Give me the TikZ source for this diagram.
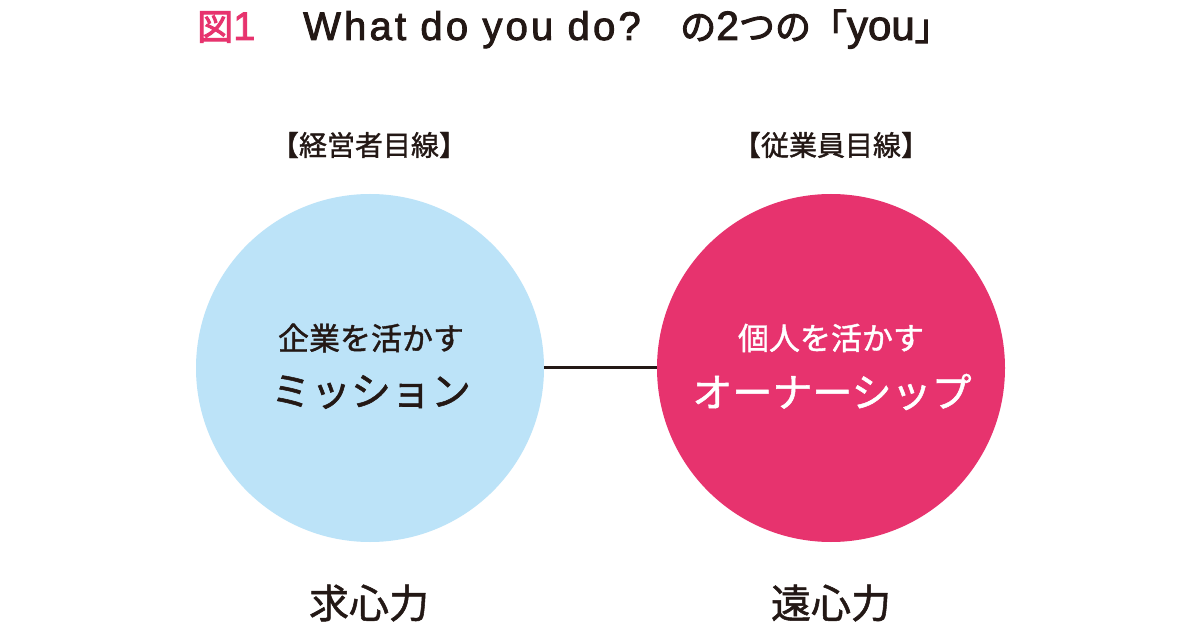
\documentclass[tikz,border=0pt]{standalone}
\usepackage{fontspec}
\setmainfont{Noto Sans CJK JP}
\newfontfamily\jp[FakeBold=1.3]{Noto Sans CJK JP}
\newfontfamily\jpt[FakeBold=2.6]{Noto Sans CJK JP}
\newfontfamily\lat[FakeBold=2.2]{Liberation Sans}
\newfontfamily\latw[LetterSpace=8,FakeBold=2.2]{Liberation Sans}
\definecolor{ink}{RGB}{35,24,21}
\definecolor{lblue}{RGB}{188,227,248}
\definecolor{rose}{RGB}{231,51,110}
\newcommand{\fs}[1]{\fontsize{#1}{#1}\selectfont}
\begin{document}
\begin{tikzpicture}[x=1pt,y=1pt,
  circ/.style={circle, minimum size=348pt, inner sep=0pt},
  txt/.style={inner sep=0pt, text=ink},
  lbl/.style={txt, font=\jp\fs{28}},
  big/.style={txt, font=\jp\fs{40}},
  mid/.style={txt, font=\jp\fs{31}}]
\useasboundingbox (0,0) rectangle (1200,630);
\fill[white] (0,0) rectangle (1200,630);
% title
\node[txt, anchor=base west, text=rose, font=\jpt\fs{36}] (t1) at (197,590) {図{\lat\fs{40}1}};
\node[txt, anchor=base west, font=\latw\fs{40}] (t2) at (303,590) {What do you do?};
\node[txt, anchor=base west, font=\jpt\fs{36}] (t3) at (680,590) {の{\lat\fs{41}2}つの「{\lat\fs{42}you}」};
% labels
\node[lbl] (lab1) at (369,485) {【経営者目線】};
\node[lbl] (lab2) at (831,485) {【従業員目線】};
% circles
\node[circ, fill=lblue] (c1) at (370,262) {};
\node[circ, fill=rose] (c2) at (831,262) {};
\draw[ink, line width=3pt] (c1.east) -- (c2.west);
\node[mid] (c1a) at (371,292) {企業を活かす};
\node[big] (c1b) at (371,238) {ミッション};
\node[mid, text=white] (c2a) at (831,292) {個人を活かす};
\node[big, text=white] (c2b) at (832,238) {オーナーシップ};
% bottom
\node[big] (b1) at (369,27) {求心力};
\node[big] (b2) at (831,27) {遠心力};
\end{tikzpicture}
\end{document}
